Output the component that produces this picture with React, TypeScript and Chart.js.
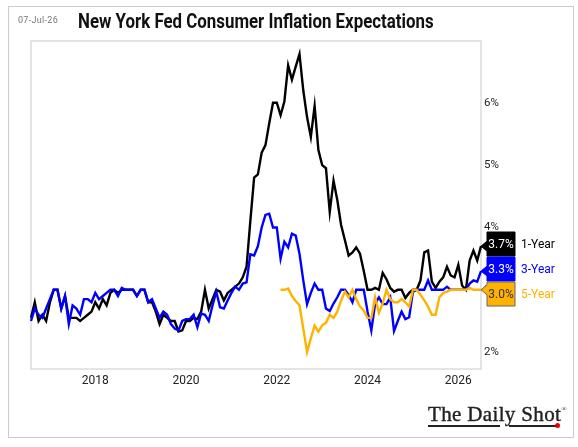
import { useEffect, useRef } from 'react';
import { Chart, registerables } from 'chart.js';

Chart.register(...registerables);

const TITLE = 'New York Fed Consumer Inflation Expectations';
const DATE_STAMP = '07-Jul-26';
const FIRST_YEAR = 2016;
const FIRST_MONTH = 8;
const YEAR_TICKS = ['2018', '2020', '2022', '2024', '2026'];

const oneYear = [
  2.55, 2.8, 2.5, 2.6, 2.5, 2.8, 3.0, 3.0, 2.7, 2.9,
  2.55, 2.55, 2.55, 2.5, 2.55, 2.6, 2.65, 2.8, 2.7, 2.85,
  2.75, 2.95, 3.0, 2.95, 3.0, 3.0, 3.0, 3.0, 2.9, 3.0,
  3.0, 2.8, 2.8, 2.65, 2.45, 2.6, 2.55, 2.5, 2.5, 2.33,
  2.35, 2.5, 2.5, 2.55, 2.53, 2.65, 3.0, 2.7, 2.85, 3.0,
  2.97, 2.83, 2.95, 3.0, 3.05, 3.1, 3.2, 3.37, 4.1, 4.8,
  4.85, 5.2, 5.32, 5.67, 6.0, 6.0, 5.8, 6.02, 6.6, 6.37,
  6.58, 6.78, 6.2, 5.77, 5.45, 5.95, 5.24, 5.0, 4.95, 4.25,
  4.75, 4.44, 4.04, 3.8, 3.55, 3.6, 3.68, 3.58, 3.3, 3.0,
  3.0, 3.03, 3.0, 3.27, 3.17, 3.03, 2.97, 3.0, 3.0, 2.87,
  2.95, 3.0, 3.0, 3.15, 3.6, 3.63, 3.13, 3.03, 3.13, 3.2,
  3.37, 3.23, 3.2, 3.4, 3.07, 3.0, 3.47, 3.63, 3.47, 3.7,
];

const threeYear = [
  2.5, 2.7, 2.6, 2.55, 2.7, 2.85, 3.0, 3.0, 2.7, 2.9,
  2.45, 2.75, 2.7, 2.6, 2.85, 2.85, 2.8, 2.95, 2.85, 2.9,
  2.95, 3.0, 3.0, 2.9, 3.03, 3.0, 3.0, 3.0, 2.9, 3.0,
  3.0, 2.8, 2.85, 2.7, 2.55, 2.65, 2.6, 2.45, 2.38, 2.35,
  2.5, 2.53, 2.53, 2.6, 2.4, 2.62, 2.6, 2.5, 2.75, 2.97,
  2.72, 2.7, 2.83, 2.95, 3.05, 3.0, 3.1, 3.12, 3.57, 3.55,
  3.7, 4.0, 4.2, 4.22, 4.0, 4.0, 3.5, 3.77, 3.68, 3.9,
  3.87, 3.58, 3.15, 2.77, 2.95, 3.1, 3.0, 3.0, 2.7, 2.66,
  2.78, 2.88, 3.0, 3.0, 2.92, 2.8, 3.0, 3.0, 3.0, 2.65,
  2.35, 2.78, 2.88, 2.77, 2.77, 2.88, 2.34, 2.5, 2.65, 2.53,
  2.56, 2.97, 3.0, 3.0, 3.0, 3.15, 3.0, 3.0, 3.0, 3.0,
  3.05, 3.0, 3.0, 3.0, 3.0, 3.0, 3.1, 3.15, 3.13, 3.3,
];

const fiveYearStart = 66;
const fiveYear = [
  3.0, 3.0, 3.02, 2.9, 2.82, 2.75, 2.38, 2.0, 2.22, 2.43,
  2.33, 2.43, 2.47, 2.6, 2.55, 2.65, 2.83, 2.97, 2.88, 3.0,
  2.85, 2.73, 2.67, 2.55, 2.55, 2.88, 2.63, 2.78, 3.0, 2.85,
  2.8, 2.8, 2.85, 2.8, 2.73, 3.0, 3.0, 2.92, 2.83, 2.73,
  2.6, 2.6, 2.88, 2.95, 2.97, 3.0, 3.0, 3.0, 3.0, 3.0,
  3.03, 3.0, 3.0, 3.0,
];

const months = oneYear.map((_, i) => {
  const m = FIRST_MONTH - 1 + i;
  return `${FIRST_YEAR + Math.floor(m / 12)}-${String((m % 12) + 1).padStart(2, '0')}`;
});

const BLACK = '#000000';
const BLUE = '#0000ff';
const GOLD = '#ffb300';

const tags = [
  { name: '1-Year', values: oneYear, fill: BLACK, text: '#ffffff', line: BLACK, top: 232, bottom: 256 },
  { name: '3-Year', values: threeYear, fill: BLUE, text: '#ffffff', line: BLUE, top: 257, bottom: 281 },
  { name: '5-Year', values: fiveYear, fill: GOLD, text: '#333333', line: '#666666', top: 282, bottom: 306 },
];

// plot frame plus the value tags on the right
const framePlugin = {
  id: 'frame',
  beforeDraw(chart: Chart) {
    const { ctx, chartArea: a } = chart;
    ctx.save();
    ctx.strokeStyle = '#dcdcdc';
    ctx.lineWidth = 1.5;
    ctx.strokeRect(a.left, a.top, a.right - a.left, a.bottom - a.top);
    ctx.restore();
  },
  afterDatasetsDraw(chart: Chart) {
    const { ctx, chartArea: a, scales } = chart;
    const boxLeft = a.right + 6;
    const boxRight = a.right + 34;
    ctx.save();
    tags.forEach(tag => {
      const last = tag.values[tag.values.length - 1];
      const tip = scales.y.getPixelForValue(last);
      const tipY = Math.min(Math.max(tip, tag.top + 4), tag.bottom - 4);
      ctx.beginPath();
      ctx.moveTo(boxLeft, tag.top);
      ctx.lineTo(boxRight, tag.top);
      ctx.lineTo(boxRight, tag.bottom);
      ctx.lineTo(boxLeft, tag.bottom);
      ctx.lineTo(boxLeft, tipY + 5);
      ctx.lineTo(a.right, tipY);
      ctx.lineTo(boxLeft, tipY - 5);
      ctx.closePath();
      ctx.fillStyle = tag.fill;
      ctx.fill();
      ctx.strokeStyle = tag.line;
      ctx.lineWidth = 1;
      ctx.stroke();
      ctx.fillStyle = tag.text;
      ctx.font = '12px Roboto';
      ctx.textAlign = 'center';
      ctx.textBaseline = 'middle';
      ctx.fillText(`${last.toFixed(1)}%`, (boxLeft + boxRight) / 2, (tag.top + tag.bottom) / 2 + 0.5);
      ctx.fillStyle = tag.fill;
      ctx.font = '12px Roboto';
      ctx.textAlign = 'left';
      ctx.fillText(tag.name, boxRight + 6, (tag.top + tag.bottom) / 2 + 0.5);
    });
    ctx.restore();
  },
};

function App() {
  const canvasRef = useRef<HTMLCanvasElement>(null);

  useEffect(() => {
    if (!canvasRef.current) return;
    const chart = new Chart(canvasRef.current, {
      type: 'line',
      data: {
        labels: months,
        datasets: [
          { label: '1-Year', data: oneYear, borderColor: BLACK, order: 3 },
          { label: '3-Year', data: threeYear, borderColor: BLUE, order: 2 },
          {
            label: '5-Year',
            data: months.map((_, i) => (i < fiveYearStart ? null : fiveYear[i - fiveYearStart])),
            borderColor: GOLD,
            order: 1,
          },
        ],
      },
      options: {
        responsive: false,
        animation: false,
        layout: { padding: { left: 31, top: 41, right: 0, bottom: 0 } },
        elements: { point: { radius: 0 }, line: { borderWidth: 2.4, tension: 0, borderJoinStyle: 'miter' } },
        plugins: { legend: { display: false }, tooltip: { enabled: false } },
        scales: {
          x: {
            grid: { display: false, drawTicks: false },
            border: { display: false },
            afterFit: (s: any) => { s.height = 78; },
            ticks: {
              autoSkip: false,
              maxRotation: 0,
              padding: 5,
              color: '#222222',
              font: { family: 'Roboto', size: 12 },
              callback: (_v: any, i: number) =>
                months[i].endsWith('-01') && YEAR_TICKS.includes(months[i].slice(0, 4)) ? months[i].slice(0, 4) : '',
            },
          },
          y: {
            position: 'right',
            min: 1.73,
            max: 6.99,
            grid: { display: false, drawTicks: false },
            border: { display: false },
            afterFit: (s: any) => { s.width = 97; },
            ticks: {
              stepSize: 1,
              includeBounds: false,
              padding: 3,
              color: '#222222',
              font: { family: 'Roboto', size: 11.5 },
              callback: (v: any) => `${v}%`,
            },
          },
        },
      },
      plugins: [framePlugin],
    });
    return () => chart.destroy();
  }, []);

  return (
    <div style={{ position: 'fixed', left: 0, top: 0, width: 578, height: 447, background: '#fff', overflow: 'hidden' }}>
      <canvas ref={canvasRef} width={578} height={447} style={{ display: 'block' }} />
      <div style={{ position: 'absolute', left: 8, top: 6, width: 564, height: 430, border: '1px solid #cccccc', pointerEvents: 'none' }} />
      <div style={{ position: 'absolute', left: 18, top: 15, font: '9px Roboto', color: '#777', letterSpacing: 0.3 }}>{DATE_STAMP}</div>
      <div style={{ position: 'absolute', left: 78, top: 10, font: '700 19.5px Roboto', color: '#111', whiteSpace: 'nowrap', transform: 'scaleX(0.865)', transformOrigin: 'left' }}>
        {TITLE}
      </div>
      <div style={{ position: 'absolute', left: 428, top: 402, font: '21px "Liberation Serif"', color: '#222', whiteSpace: 'nowrap', WebkitTextStroke: '0.4px #222', letterSpacing: 0.35 }}>
        The Daily Shot<sup style={{ fontSize: 7, verticalAlign: 10, lineHeight: 0, WebkitTextStroke: '0', letterSpacing: 0 }}>®</sup>
      </div>
      <div style={{ position: 'absolute', left: 428, top: 425, width: 72, height: 1.5, background: '#222' }} />
      <div style={{ position: 'absolute', left: 509, top: 425, width: 47, height: 1.5, background: '#222' }} />
      <div style={{ position: 'absolute', left: 555, top: 423, width: 5, height: 5, borderRadius: '50%', background: '#e8000d' }} />
    </div>
  );
}

export default App;
